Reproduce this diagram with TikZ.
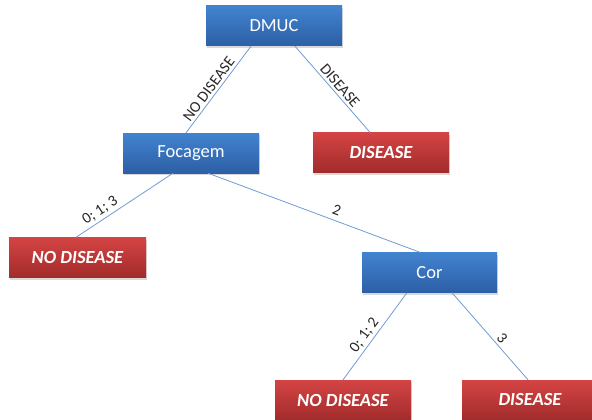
\documentclass[tikz,border=0pt]{standalone}
\usepackage{fontspec}
\setmainfont{Carlito}
\usetikzlibrary{shadows}
\definecolor{bluetop}{HTML}{4283CF}
\definecolor{bluebot}{HTML}{2C5FA6}
\definecolor{redtop}{HTML}{D44444}
\definecolor{redbot}{HTML}{A22B2B}
\definecolor{linkblue}{HTML}{6F9CD3}
\begin{document}
\begin{tikzpicture}[x=1pt,y=-1pt,
  box/.style={minimum width=136pt, minimum height=40pt, inner sep=0pt,
    drop shadow={shadow xshift=1pt, shadow yshift=-2pt, opacity=0.3},
    text=white},
  decision/.style={box, top color=bluetop, bottom color=bluebot,
    font=\fontsize{18.5}{22}\selectfont},
  leaf/.style={box, top color=redtop, bottom color=redbot,
    font=\fontsize{18.5}{22}\selectfont\bfseries\itshape},
  link/.style={draw=linkblue, line width=0.8pt},
  lbl/.style={font=\fontsize{15.5}{18}\selectfont, text=black!85, sloped, above, inner sep=2.5pt}]
\useasboundingbox (0,0) rectangle (592,420);

% tree nodes
\node[decision] (dmuc) at (274,26) {DMUC};
\node[decision] (foc) at (191,153) {Focagem};
\node[leaf] (dis1) at (381,152.5) {DISEASE};
\node[leaf, minimum width=137pt] (nod1) at (77.5,257.5) {NO DISEASE};
\node[decision, minimum width=135pt] (cor) at (429.5,272.5) {Cor};
\node[leaf] (nod2) at (343,400) {NO DISEASE};
\node[leaf] (dis2) at (530,400) {DISEASE};

% branches with their split values
\draw[link] ([xshift=-23pt]dmuc.south) -- node[lbl, pos=0.55]{NO DISEASE} ([xshift=-5pt]foc.north);
\draw[link] ([xshift=21pt]dmuc.south) -- node[lbl, pos=0.52]{DISEASE} ([xshift=-11pt]dis1.north);
\draw[link] ([xshift=-18pt]foc.south) -- node[lbl, pos=0.7]{0; 1; 3} ([xshift=-1.5pt]nod1.north);
\draw[link] ([xshift=17pt]foc.south) -- node[lbl, pos=0.59, inner sep=5pt]{2} ([xshift=-9.5pt]cor.north);
\draw[link] ([xshift=-22.5pt]cor.south) -- node[lbl, pos=0.55]{0; 1; 2} (nod2.north);
\draw[link] ([xshift=22.5pt]cor.south) -- node[lbl, pos=0.58]{3} ([xshift=-2pt]dis2.north);
\end{tikzpicture}
\end{document}
